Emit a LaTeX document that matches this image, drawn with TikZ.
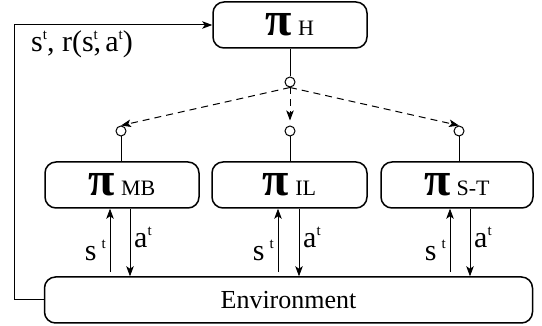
\documentclass[tikz,border=0pt]{standalone}
\usepackage{fontspec}
\setmainfont{Liberation Serif}
\usetikzlibrary{arrows.meta,calc}
\newcommand\pilab[1]{{\fontsize{48}{48}\selectfont\bfseries π}\hspace{6pt}{\fontsize{22}{22}\selectfont #1}}
\newcommand\supt{\raisebox{0.42em}{\fontsize{15}{15}\selectfont t}}
\begin{document}
\begin{tikzpicture}[x=1pt,y=-1pt,
  box/.style={draw,line width=1.5pt,rounded corners=11pt,minimum height=46pt,inner sep=0pt,anchor=center},
  dot/.style={circle,draw,line width=1pt,minimum size=10pt,inner sep=0pt,fill=white},
  tip/.style={-{Stealth[length=10pt,width=7.5pt,inset=2.5pt]}},
  conn/.style={line width=1pt},
  io/.style={tip,line width=0.8pt},
  dsh/.style={conn,tip,dash pattern=on 7pt off 5pt},
  lbl/.style={font=\fontsize{30}{30}\selectfont,inner sep=0pt},
]
\useasboundingbox (0,0) rectangle (542,326);
\node[box,minimum width=154pt] (H) at (290,25) {\pilab{H}};
\node[box,minimum width=154pt] (MB) at (122,185) {\pilab{MB}};
\node[box,minimum width=155pt] (IL) at (289.5,185) {\pilab{IL}};
\node[box,minimum width=152pt] (ST) at (457,185) {\pilab{S-T}};
\node[box,minimum width=488pt] (env) at (288.5,300) {\fontsize{26}{26}\selectfont Environment};

\node[dot] (c0) at (290,82) {};
\node[dot] (c1) at (121,131) {};
\node[dot] (c2) at (290,131) {};
\node[dot] (c3) at (459,131) {};

\draw[conn] (H.south) -- (c0.north);
\draw[dsh] (c0.south) -- (c1.north);
\draw[dsh,shorten >=5pt] (c0.south) -- (c2.north);
\draw[dsh] (c0.south) -- (c3.north);
\draw[conn] (c1.south) -- (c1.south |- MB.north);
\draw[conn] (c2.south) -- (c2.south |- IL.north);
\draw[conn] (c3.south) -- (c3.south |- ST.north);

\coordinate (corner) at (14,300);
\draw[conn,tip] (env.west) -- (corner) |- (H.west);
\node[lbl,anchor=base west] (fb) at (31,52) {s\supt, r(s\rlap{,}\supt\ a\supt)};

\draw[io] ($([xshift=-12pt]MB.south |- env.north)+(0,-4)$) -- ([xshift=-12pt]MB.south);
\draw[io] ([xshift=8pt]MB.south) -- ([xshift=8pt]MB.south |- env.north);
\draw[io] ($([xshift=-11.5pt]IL.south |- env.north)+(0,-4)$) -- ([xshift=-11.5pt]IL.south);
\draw[io] ([xshift=9.5pt]IL.south) -- ([xshift=9.5pt]IL.south |- env.north);
\draw[io] ($([xshift=-7pt]ST.south |- env.north)+(0,-4)$) -- ([xshift=-7pt]ST.south);
\draw[io] ([xshift=13pt]ST.south) -- ([xshift=13pt]ST.south |- env.north);

\node[lbl,anchor=base east] (s1) at (106,261) {s\,\supt};
\node[lbl,anchor=base west] (a1) at (134,248) {a\supt};
\node[lbl,anchor=base east] (s2) at (274,261) {s\,\supt};
\node[lbl,anchor=base west] (a2) at (303,248) {a\supt};
\node[lbl,anchor=base east] (s3) at (446,261) {s\,\supt};
\node[lbl,anchor=base west] (a3) at (474,248) {a\supt};
\end{tikzpicture}
\end{document}
